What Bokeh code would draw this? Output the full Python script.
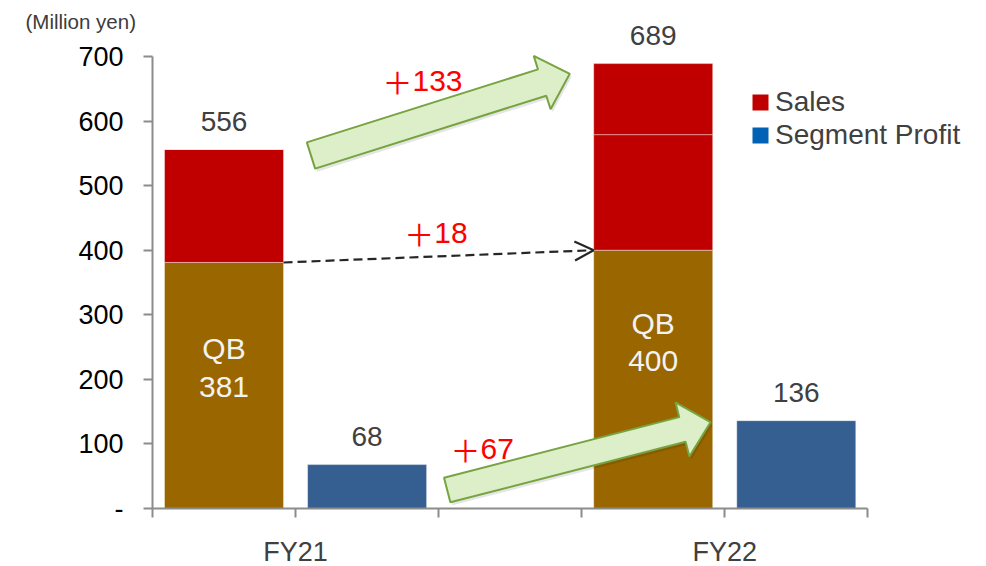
import math

from bokeh.plotting import figure
from bokeh.models import (Range1d, FixedTicker, Legend, LegendItem,
                          Arrow, OpenHead)
from bokeh.core.properties import value
from bokeh.embed import file_html
from bokeh.resources import INLINE

# ---- data (million yen) ----
categories = ["FY21", "FY22"]
qb_sales = [381, 400]          # QB part of sales
other_sales = [175, 179]       # remaining sales
added_sales = [0, 110]         # additional sales block in FY22
segment_profit = [68, 136]
change_values = ["133", "18", "67"]   # total sales, QB, segment profit
y_ticks = [0, 100, 200, 300, 400, 500, 600, 700]

sales_total = [q + o + a for q, o, a in zip(qb_sales, other_sales, added_sales)]

# ---- layout: the plot frame fills the whole canvas, axes sit at fixed spots ----
W, H = 986, 566
ORIGIN_X, ORIGIN_Y = 152, 508        # pixel position of (0, 0)
PX_PER_SLOT = 143.06                 # one bar slot on the x scale
PX_PER_UNIT = 452.0 / 700.0          # pixels per million yen
BAR_W = 0.832
FONT = value("Liberation Sans")
CJK = value("Noto Sans CJK JP")
GREY_TXT = "#404040"
AXIS_CLR = "#8C8C8C"

RED, BROWN, BLUE = "#C00000", "#996600", "#365F91"
LEGEND_BLUE = "#0061B5"


def dx(px):
    return (px - ORIGIN_X) / PX_PER_SLOT


def dy(py):
    return (ORIGIN_Y - py) / PX_PER_UNIT


group_start = [0, 3]
sales_x = [g + 0.5 for g in group_start]
profit_x = [g + 1.5 for g in group_start]

p = figure(width=W, height=H,
           x_range=Range1d(dx(0), dx(W)), y_range=Range1d(dy(H), dy(0)),
           output_backend="svg", toolbar_location=None,
           min_border=0, min_border_left=0, min_border_right=0,
           min_border_top=0, min_border_bottom=0)
p.outline_line_color = None
p.xgrid.visible = False
p.ygrid.visible = False
p.background_fill_color = "white"
p.border_fill_color = "white"

# ---- axes ----
ya = p.yaxis[0]
ya.fixed_location = 0
ya.ticker = FixedTicker(ticks=y_ticks)
ya.bounds = (0, 700)
ya.major_label_overrides = {0: "-"}
ya.major_label_text_font = "Liberation Sans"
ya.major_label_text_font_size = "27px"
ya.major_label_text_color = "#000000"
ya.major_label_standoff = 20
ya.major_tick_out = 9
ya.major_tick_in = 0
ya.minor_tick_out = 0
ya.minor_tick_in = 0
ya.axis_line_color = AXIS_CLR
ya.axis_line_width = 2
ya.major_tick_line_color = AXIS_CLR
ya.major_tick_line_width = 2

xa = p.xaxis[0]
xa.fixed_location = 0
xa.ticker = FixedTicker(ticks=[0, 1, 2, 3, 4, 5])
xa.bounds = (0, 5)
cat_ticks = {g + 1: c for g, c in zip(group_start, categories)}
xa.major_label_overrides = {t: cat_ticks.get(t, "") for t in range(6)}
xa.major_label_text_font = "Liberation Sans"
xa.major_label_text_font_size = "27px"
xa.major_label_text_color = GREY_TXT
xa.major_label_standoff = 19
xa.major_tick_out = 9
xa.major_tick_in = 0
xa.minor_tick_out = 0
xa.minor_tick_in = 0
xa.axis_line_color = AXIS_CLR
xa.axis_line_width = 2
xa.major_tick_line_color = AXIS_CLR
xa.major_tick_line_width = 2

# ---- stacked sales bars ----
edge = dict(line_color="white", line_alpha=0.4, line_width=1)
p.vbar(x=sales_x, bottom=0, top=qb_sales, width=BAR_W, fill_color=BROWN, **edge)
other_top = [q + o for q, o in zip(qb_sales, other_sales)]
p.vbar(x=sales_x, bottom=qb_sales, top=other_top, width=BAR_W, fill_color=RED, **edge)
p.vbar(x=sales_x, bottom=other_top, top=sales_total, width=BAR_W, fill_color=RED, **edge)

# ---- segment profit bars ----
p.vbar(x=profit_x, bottom=0, top=segment_profit, width=BAR_W, fill_color=BLUE, **edge)

# ---- value labels ----
p.text(x=sales_x, y=sales_total, text=[str(v) for v in sales_total],
       y_offset=-28, text_align="center", text_baseline="middle",
       text_font=FONT, text_font_size="28px", text_color=GREY_TXT)
p.text(x=profit_x, y=segment_profit, text=[str(v) for v in segment_profit],
       y_offset=-28, text_align="center", text_baseline="middle",
       text_font=FONT, text_font_size="28px", text_color=GREY_TXT)

# QB labels inside the brown bars
qb_value_y = [dy(386), dy(360.5)]
p.text(x=sales_x, y=qb_value_y, text=[str(v) for v in qb_sales],
       text_align="center", text_baseline="middle",
       text_font=FONT, text_font_size="30px", text_color="#F2F2F2")
p.text(x=sales_x, y=qb_value_y, text=["QB", "QB"], y_offset=-38,
       text_align="center", text_baseline="middle",
       text_font=FONT, text_font_size="30px", text_color="#F2F2F2")


# ---- block arrows ----
def block_arrow(tail, tip, shaft=13.5, head=28.0, head_len=29.0):
    (tx, ty), (px_, py_) = tail, tip
    L = math.hypot(px_ - tx, py_ - ty)
    ux, uy = (px_ - tx) / L, (py_ - ty) / L
    nx, ny = -uy, ux
    bx, by = px_ - ux * head_len, py_ - uy * head_len
    return [(tx + nx * shaft, ty + ny * shaft),
            (bx + nx * shaft, by + ny * shaft),
            (bx + nx * head, by + ny * head),
            (px_, py_),
            (bx - nx * head, by - ny * head),
            (bx - nx * shaft, by - ny * shaft),
            (tx - nx * shaft, ty - ny * shaft)]


arrows_px = [((310.5, 155.0), (569.3, 73.3), 13.8),
             ((446.7, 489.5), (710.0, 421.7), 12.7)]
for tail, tip, sw in arrows_px:
    pts = block_arrow(tail, tip, shaft=sw)
    # soft shadow
    p.patch([dx(x + 2) for x, _ in pts], [dy(y + 3) for _, y in pts],
            fill_color="#000000", fill_alpha=0.10, line_color=None)
    p.patch([dx(x) for x, _ in pts], [dy(y) for _, y in pts],
            fill_color="#DCEFC8", line_color="#77A340", line_width=2)

# dashed arrow between the QB tops
p.add_layout(Arrow(x_start=sales_x[0] + BAR_W / 2, y_start=qb_sales[0],
                   x_end=sales_x[1] - BAR_W / 2, y_end=qb_sales[1],
                   line_color="#262626", line_width=2.2, line_dash="9 5",
                   end=OpenHead(size=19, line_color="#262626", line_width=2.2)))

# ---- change labels: full-width plus sign followed by the amount ----
plus_center_px = [(397, 80), (418.7, 232.5), (465, 448)]
p.text(x=[dx(x) for x, _ in plus_center_px], y=[dy(y) for _, y in plus_center_px],
       text=["＋"] * 3, text_align="center", text_baseline="middle",
       text_font=CJK, text_font_size="30px", text_color="#FF0000")
p.text(x=[dx(x + 15) for x, _ in plus_center_px], y=[dy(y) for _, y in plus_center_px],
       text=change_values, text_align="left", text_baseline="middle",
       text_font=FONT, text_font_size="30px", text_color="#FF0000")

# ---- unit ----
p.text(x=[dx(25)], y=[dy(20.5)], text=["(Million yen)"], text_align="left",
       text_baseline="middle", text_font=FONT, text_font_size="20.5px",
       text_color="#3C3C3C")

# ---- legend (swatch renderers are zero-height bars that draw nothing) ----
r_sales = p.vbar(x=[sales_x[0]], top=[0], bottom=[0], width=0.5,
                 fill_color=RED, line_color=None)
r_profit = p.vbar(x=[profit_x[0]], top=[0], bottom=[0], width=0.5,
                  fill_color=LEGEND_BLUE, line_color=None)
legend = Legend(items=[LegendItem(label="Sales", renderers=[r_sales]),
                       LegendItem(label="Segment Profit", renderers=[r_profit])],
                location=(750, H - 151),
                padding=0, margin=0, spacing=0,
                glyph_width=20, glyph_height=20, label_height=33,
                label_standoff=5, border_line_color=None,
                background_fill_alpha=0,
                label_text_font="Liberation Sans", label_text_font_size="28px",
                label_text_color=GREY_TXT)
p.add_layout(legend, "center")

open("out.html", "w").write(file_html(p, INLINE))
